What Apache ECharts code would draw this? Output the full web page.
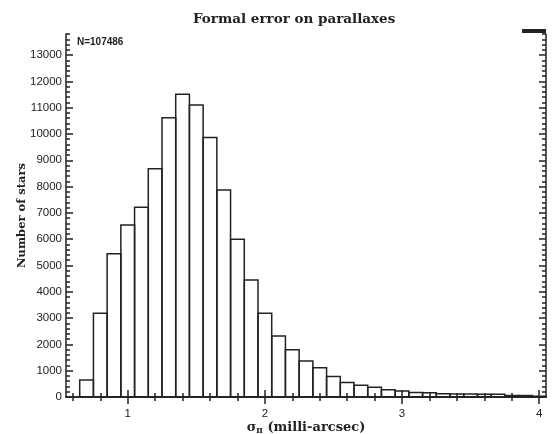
<!DOCTYPE html>
<html>
<head>
<meta charset="utf-8">
<script src="https://cdn.jsdelivr.net/npm/echarts@6/dist/echarts.min.js"></script>
<style>
html,body{margin:0;padding:0;background:#fff;}
#chart{width:552px;height:434px;}
</style>
</head>
<body>
<div id="chart"></div>
<script>
// ---- data ----
const binCenters = [0.7, 0.8, 0.9, 1.0, 1.1, 1.2, 1.3, 1.4, 1.5, 1.6, 1.7, 1.8, 1.9, 2.0, 2.1, 2.2, 2.3, 2.4,
                    2.5, 2.6, 2.7, 2.8, 2.9, 3.0, 3.1, 3.2, 3.3, 3.4, 3.5, 3.6, 3.7, 3.8, 3.9, 4.0];
const counts = [650, 3180, 5450, 6540, 7210, 8680, 10620, 11510, 11100, 9870, 7870, 6000, 4450, 3180, 2320, 1800, 1370, 1115,
                780, 555, 450, 370, 280, 225, 170, 165, 120, 115, 110, 105, 100, 60, 55, 30];
const binWidth = 0.1;
const xMajorTicks = [1, 2, 3, 4];
const xMinorTicks = [0.6, 0.8, 1.0, 1.2, 1.4, 1.6, 1.8, 2.0, 2.2, 2.4, 2.6, 2.8, 3.0, 3.2, 3.4, 3.6, 3.8, 4.0];
const yMajorTicks = [0, 1000, 2000, 3000, 4000, 5000, 6000, 7000, 8000, 9000, 10000, 11000, 12000, 13000];
const yMinorTicks = [];
for (let v = 0; v <= 13800; v += 200) yMinorTicks.push(v);
const xRange = [0.55, 4.05];
const yRange = [0, 13800];
const titleText = 'Formal error on parallaxes';
const xTitle = '{s|σ}{sub|π} (milli-arcsec)';
const yTitle = 'Number of stars';
const nText = 'N=107486';

const ink = '#222';
function plain(v) { return String(Math.round(v * 100) / 100); }
function xAx(pos, ticks, len, showLine, showLabel) {
  return {
    type: 'value', position: pos, min: xRange[0], max: xRange[1],
    axisLine: {show: showLine, lineStyle: {color: ink, width: 1.5}},
    axisTick: {show: true, inside: true, length: len, customValues: ticks, lineStyle: {color: ink, width: 1.5}},
    axisLabel: showLabel ? {show: true, customValues: ticks, margin: 11, color: '#222', formatter: plain,
      fontFamily: 'Liberation Sans', fontSize: 11.5} : {show: false},
    splitLine: {show: false}
  };
}
function yAx(pos, ticks, len, showLine, showLabel) {
  return {
    type: 'value', position: pos, min: yRange[0], max: yRange[1],
    axisLine: {show: showLine, lineStyle: {color: ink, width: 1.5}},
    axisTick: {show: true, inside: true, length: len, customValues: ticks, lineStyle: {color: ink, width: 1.5}},
    axisLabel: showLabel ? {show: true, customValues: ticks, margin: 4, color: '#222', formatter: plain,
      fontFamily: 'Liberation Sans', fontSize: 11.5} : {show: false},
    splitLine: {show: false}
  };
}

const xMain = xAx('bottom', xMajorTicks, 7, true, true);
xMain.name = xTitle;
xMain.nameLocation = 'middle';
xMain.nameGap = 23;
xMain.nameMoveOverlap = false;
xMain.nameTextStyle = {
  color: '#222', fontFamily: 'DejaVu Serif', fontWeight: 'bold', fontSize: 13,
  rich: {
    s: {fontFamily: 'DejaVu Serif', fontSize: 13, color: '#222'},
    sub: {fontFamily: 'DejaVu Serif', fontSize: 9, color: '#222', verticalAlign: 'bottom', padding: [6, 0, 0, 0]}
  }
};
const yMain = yAx('left', yMajorTicks, 7, true, true);
yMain.name = yTitle;
yMain.nameLocation = 'middle';
yMain.nameGap = 38;
yMain.nameMoveOverlap = false;
yMain.nameTextStyle = {color: '#222', fontFamily: 'DejaVu Serif', fontWeight: 'bold', fontSize: 11.5};

const chart = echarts.init(document.getElementById('chart'), null, {renderer: 'canvas'});
chart.setOption({
  animation: false,
  backgroundColor: '#fff',
  title: {
    text: titleText, left: 188, top: 7,
    textStyle: {fontFamily: 'DejaVu Serif', fontWeight: 'bold', fontSize: 13.5, color: '#222'}
  },
  grid: {left: 66, right: 6, top: 34, bottom: 37, containLabel: false, outerBoundsMode: 'none'},
  xAxis: [
    xMain,
    xAx('bottom', xMinorTicks, 4, false, false),
    xAx('top', xMajorTicks, 7, true, false),
    xAx('top', xMinorTicks, 4, false, false)
  ],
  yAxis: [
    yMain,
    yAx('left', yMinorTicks, 4, false, false),
    yAx('right', yMajorTicks, 7, true, false),
    yAx('right', yMinorTicks, 4, false, false)
  ],
  graphic: [
    {type: 'text', left: 77, top: 37, style: {text: nText, fill: '#222', font: 'bold 10px "Liberation Sans"'}},
    {type: 'rect', left: 522, top: 29, shape: {width: 24, height: 4}, style: {fill: '#222'}}
  ],
  series: [{
    type: 'custom',
    xAxisIndex: 0, yAxisIndex: 0,
    data: binCenters.map((c, i) => [c, counts[i]]),
    renderItem: function (params, api) {
      const c = api.value(0), v = api.value(1);
      const p0 = api.coord([c - binWidth / 2, v]);
      const p1 = api.coord([c + binWidth / 2, 0]);
      return {
        type: 'rect',
        shape: {x: p0[0], y: p0[1], width: p1[0] - p0[0], height: p1[1] - p0[1]},
        style: {fill: 'rgba(255,255,255,0)', stroke: '#222', lineWidth: 1.5}
      };
    }
  }]
});
</script>
</body>
</html>
